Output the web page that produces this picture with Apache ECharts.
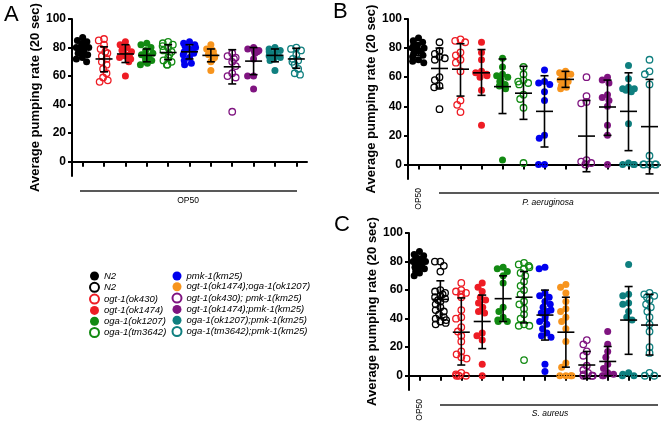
<!DOCTYPE html>
<html>
<head>
<meta charset="utf-8">
<script src="https://cdn.jsdelivr.net/npm/echarts@6/dist/echarts.min.js"></script>
<style>
html,body{margin:0;padding:0;background:#fff;}
#chart{width:671px;height:425px;}
</style>
</head>
<body>
<div id="chart"></div>
<script>
// ---------- data ----------
const strainNames = ['N2','N2 ','ogt-1(ok430)','ogt-1(ok1474)','oga-1(ok1207)','oga-1(tm3642)',
  'pmk-1(km25)','ogt-1(ok1474);oga-1(ok1207)','ogt-1(ok430); pmk-1(km25)','ogt-1(ok1474);pmk-1(km25)',
  'oga-1(ok1207);pmk-1(km25)','oga-1(tm3642);pmk-1(km25)'];
const yTicks = [0, 20, 40, 60, 80, 100];

// Panel A (OP50) – strain indices shown
const strainsA = [0,2,3,4,5,6,7,8,9,10,11];
const valuesA = [
  [87,85,84,83,82,81,80,80,79,79,78,78,77,76,75,73,72,70],
  [86,85,82,79,77,76,74,72,70,68,65,62,59,57,56],
  [84,82,80,79,78,77,76,75,74,73,72,70,60],
  [83,82,80,78,76,75,74,73,72,71,70,69,68],
  [84,83,82,81,80,78,77,75,73,71,70,68,68],
  [84,83,82,81,80,79,77,76,75,73,71,69,68],
  [82,79,78,77,76,75,74,73,72,70,64],
  [76,74,73,72,70,67,62,60,59,35],
  [80,79,78,78,77,76,72,60,60,51],
  [80,79,78,77,76,75,74,73,72,71,64],
  [80,79,78,75,72,71,70,68,65,62,61]
];
const meanA = [79,72,75.5,74.5,76.5,77,74.5,66.5,70.5,74.5,72];
const upperA = [82.8,80.5,82,79,82,82,79,78.5,80,79,79.5];
const lowerA = [75.2,63,69.5,70,71.5,72,70,54.5,61,70,65.5];

// Panel B (OP50 + P. aeruginosa)
const strainsB = [0,1,2,3,4,5,6,7,8,9,10,11];
const valuesB = [
  [87,85,84,83,82,81,80,80,79,79,78,78,77,76,75,74,72,71,70],
  [84,78,76,74,73,72,60,58,54,53,38],
  [86,85,84,77,75,72,70,64,44,41,36],
  [84,77,72,64,63,62,61,60,51,27],
  [73,67,62,61,60,58,57,55,54,52,3],
  [67,62,58,57,56,55,48,45,39,1],
  [65,57,56,55,50,44,20,18,0,0],
  [64,63,62,61,60,59,58,57,56,55,54,53,52],
  [60,47,43,42,3,2,1,0,0],
  [60,58,56,48,46,44,40,27,20,0],
  [68,59,53,52,52,51,50,28,1,0,0,0],
  [72,64,62,55,6,0,0,0,0,0]
];
const meanB = [79,66,65.5,63,53.5,49,36.5,58.5,19.5,39.5,36.5,26];
const upperB = [83,80,83,79,72.5,67.5,61,64,44,58,63,58.5];
const lowerB = [75,52.5,47,47.5,35,31,12,53,-5,20,9.5,-6.5];

// Panel C (OP50 + S. aureus)
const strainsC = [0,1,2,3,4,5,6,7,8,9,10,11];
const valuesC = [
  [87,85,84,83,82,81,80,80,79,79,78,78,77,77,76,75,74,73,72,70],
  [80,80,77,73,60,59,58,57,56,55,54,53,52,50,48,46,45,43,41,40,39,38,37,36],
  [65,60,59,58,57,55,46,41,40,34,31,28,24,17,15,13,12,2,1,0,0,0],
  [65,62,59,55,53,51,48,45,44,30,28,25,8,0],
  [76,75,73,70,65,48,45,41,39,38,38],
  [79,78,77,76,75,72,70,66,63,60,57,52,50,47,43,40,36,35,35,11],
  [76,75,58,56,55,52,50,48,46,45,44,42,40,38,36,33,30,28,27,8,3],
  [64,62,58,52,47,45,41,38,33,24,9,6,0,0,0,0],
  [25,22,17,14,7,4,2,1,0,0,0],
  [31,22,17,13,8,5,2,1,0,0],
  [78,57,56,51,50,45,41,39,2,1,0,0],
  [58,57,56,55,53,50,48,45,41,36,31,20,16,2,0,0]
];
const meanC = [79,53.5,30.5,38,54,55,42.5,30.5,7.5,10,39,35.5];
const upperC = [83,66.5,54.5,56.5,70,73,60,55,17,20.5,62.5,57];
const lowerC = [75,40.5,7.5,19,38,37,25,6,-2,0,15,14.5];

// ---------- styles ----------
const strainColors = ['#000000','#000000','#ee1c24','#ee1c24','#128a12','#128a12',
  '#0000ee','#f7941d','#7f1480','#7f1480','#0f7f7f','#0f7f7f'];
const strainFilled = [true,false,false,true,true,false,true,true,false,true,true,false];
const FONT = '"Liberation Sans", Arial, sans-serif';

const panels = [
  {strains: strainsA, values: valuesA, mean: meanA, upper: upperA, lower: lowerA,
   grid: {left: 72, top: 19, width: 235, height: 157}, op50Label: false},
  {strains: strainsB, values: valuesB, mean: meanB, upper: upperB, lower: lowerB,
   grid: {left: 408, top: 19, width: 252, height: 160}, op50Label: true},
  {strains: strainsC, values: valuesC, mean: meanC, upper: upperC, lower: lowerC,
   grid: {left: 409, top: 233, width: 251, height: 157}, op50Label: true}
];

function itemStyleFor(s) {
  return strainFilled[s]
    ? {color: strainColors[s], opacity: 1}
    : {color: 'rgba(255,255,255,0)', borderColor: strainColors[s], borderWidth: 1.3, opacity: 1};
}

const grids = [], xAxes = [], yAxes = [], series = [];
panels.forEach((p, pi) => {
  grids.push(Object.assign({containLabel: false}, p.grid));
  xAxes.push({
    gridIndex: pi, type: 'category',
    data: p.strains.map(s => strainNames[s]),
    boundaryGap: true,
    jitter: 13, jitterOverlap: false, jitterMargin: -1,
    axisLine: {show: true, lineStyle: {color: '#000', width: 2}},
    axisTick: {show: true, alignWithLabel: true, interval: 0, length: 5, lineStyle: {color: '#000', width: 2}},
    axisLabel: p.op50Label ? {
      show: true, interval: 0, rotate: 90, fontSize: 8.5, color: '#000', fontFamily: FONT, margin: 9,
      formatter: (v, i) => i === 0 ? 'OP50' : ''
    } : {show: false},
    splitLine: {show: false}
  });
  yAxes.push({
    gridIndex: pi, type: 'value', min: -10, max: 100,
    axisLine: {show: true, lineStyle: {color: '#000', width: 2}},
    axisTick: {show: true, length: 4, lineStyle: {color: '#000', width: 2}, customValues: yTicks},
    axisLabel: {show: true, customValues: yTicks, fontSize: 12, fontWeight: 'bold', color: '#000',
      fontFamily: FONT, margin: 6},
    splitLine: {show: false},
    name: 'Average pumping rate (20 sec)', nameLocation: 'middle', nameGap: 28,
    nameTextStyle: {fontSize: 13, fontWeight: 'bold', color: '#000', fontFamily: FONT}
  });
  p.strains.forEach((s, j) => {
    const ser = {
      type: 'scatter', name: strainNames[s], xAxisIndex: pi, yAxisIndex: pi,
      symbol: 'circle', symbolSize: strainFilled[s] ? 7 : 6.5,
      itemStyle: itemStyleFor(s),
      data: p.values[j].map(v => [j, v]),
      z: 2, silent: true, animation: false
    };
    if (j === 0) {
      ser.markLine = {
        silent: true, symbol: ['none', 'none'], label: {show: false}, animation: false,
        lineStyle: {type: [1, 1.6], color: '#000', width: 1.2, opacity: 1},
        data: [{yAxis: 0}]
      };
    }
    series.push(ser);
  });
  series.push({
    type: 'custom', xAxisIndex: pi, yAxisIndex: pi, silent: true, animation: false, z: 5,
    data: p.mean.map((m, i) => [i, m, p.lower[i], p.upper[i]]),
    renderItem: (params, api) => {
      const c = api.coord([api.value(0), api.value(1)]);
      const lo = api.coord([api.value(0), api.value(2)]);
      const hi = api.coord([api.value(0), api.value(3)]);
      const st = {stroke: '#000', lineWidth: 1.6};
      return {type: 'group', children: [
        {type: 'line', shape: {x1: c[0], y1: hi[1], x2: c[0], y2: lo[1]}, style: st},
        {type: 'line', shape: {x1: c[0]-4, y1: hi[1], x2: c[0]+4, y2: hi[1]}, style: st},
        {type: 'line', shape: {x1: c[0]-4, y1: lo[1], x2: c[0]+4, y2: lo[1]}, style: st},
        {type: 'line', shape: {x1: c[0]-8.5, y1: c[1], x2: c[0]+8.5, y2: c[1]}, style: st}
      ]};
    }
  });
});

const legendBase = {
  orient: 'vertical', icon: 'circle', itemWidth: 9, itemHeight: 9, itemGap: 0.8,
  padding: 0, selectedMode: false,
  textStyle: {fontStyle: 'italic', fontSize: 9.5, color: '#000', fontFamily: FONT}
};

const textStyleBase = {fill: '#000', fontFamily: FONT};
const option = {
  backgroundColor: '#fff',
  animation: false,
  grid: grids, xAxis: xAxes, yAxis: yAxes, series: series,
  legend: [
    Object.assign({}, legendBase, {left: 89, top: 271, data: strainNames.slice(0, 6)}),
    Object.assign({}, legendBase, {left: 171.5, top: 271, data: strainNames.slice(6)})
  ],
  graphic: [
    {type: 'text', left: 4, top: 4, style: Object.assign({text: 'A', fontSize: 22}, textStyleBase)},
    {type: 'text', left: 333, top: 1, style: Object.assign({text: 'B', fontSize: 22}, textStyleBase)},
    {type: 'text', left: 334, top: 214, style: Object.assign({text: 'C', fontSize: 22}, textStyleBase)},
    {type: 'line', shape: {x1: 80, y1: 191, x2: 297, y2: 191}, style: {stroke: '#222', lineWidth: 1.5}},
    {type: 'text', x: 188, y: 201, style: Object.assign({text: 'OP50', fontSize: 8.5, align: 'center', verticalAlign: 'middle'}, textStyleBase)},
    {type: 'line', shape: {x1: 439, y1: 193, x2: 659, y2: 193}, style: {stroke: '#222', lineWidth: 1.5}},
    {type: 'text', x: 548, y: 203, style: Object.assign({text: 'P. aeruginosa', fontSize: 8.5, fontStyle: 'italic', align: 'center', verticalAlign: 'middle'}, textStyleBase)},
    {type: 'line', shape: {x1: 440, y1: 405, x2: 658, y2: 405}, style: {stroke: '#222', lineWidth: 1.5}},
    {type: 'text', x: 550, y: 414, style: Object.assign({text: 'S. aureus', fontSize: 8.5, fontStyle: 'italic', align: 'center', verticalAlign: 'middle'}, textStyleBase)}
  ]
};

const chart = echarts.init(document.getElementById('chart'), null, {renderer: 'canvas'});
chart.setOption(option);
</script>
</body>
</html>
